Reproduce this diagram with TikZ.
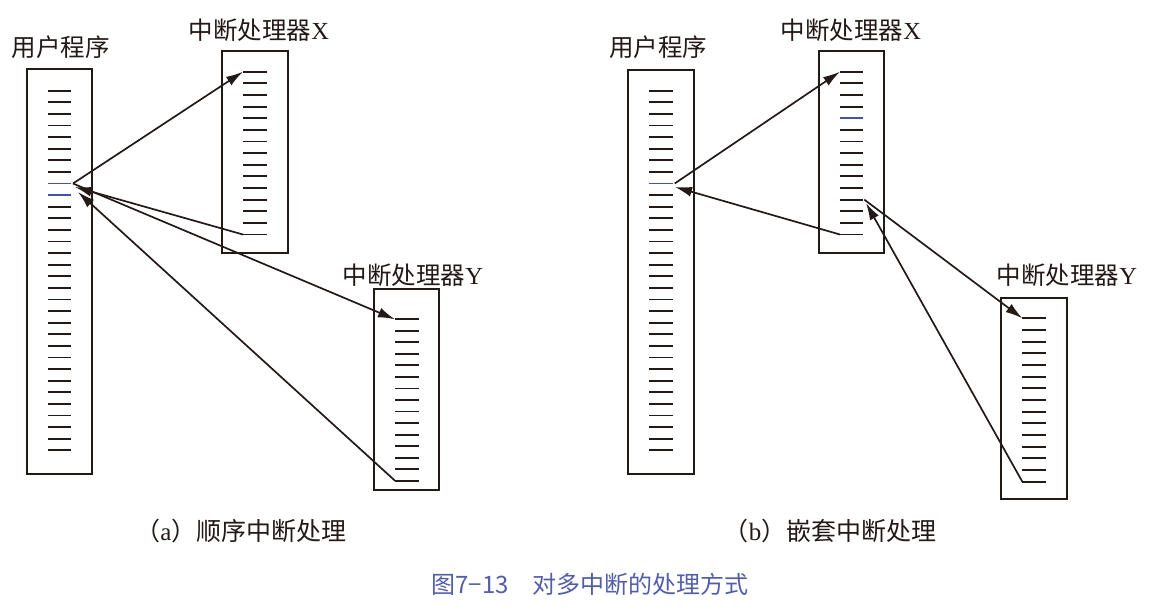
\documentclass[tikz,border=0pt]{standalone}
\usepackage{fontspec}
\setmainfont{Liberation Serif}
\newfontfamily\cjk{Noto Sans CJK SC}
\usetikzlibrary{arrows.meta,calc}
\definecolor{capblue}{RGB}{82,94,168}
\definecolor{tickblue}{RGB}{70,82,170}
\definecolor{ink}{RGB}{35,25,22}
\begin{document}
\begin{tikzpicture}[x=1pt,y=-1pt,
  prog/.style={draw=ink, line width=2pt, inner sep=0pt, anchor=north west},
  tick/.style={line width=1.9pt},
  conn/.style={draw=ink, line width=1.7pt, -{Latex[length=17pt,width=10pt]}},
  lbl/.style={inner sep=0pt, text=ink, font=\fontsize{24.5}{26}\selectfont},
  sublbl/.style={inner sep=0pt, text=ink, font=\fontsize{25}{27}\selectfont},
  figcap/.style={inner sep=0pt, font=\fontsize{24}{26}\selectfont, text=capblue}]
\useasboundingbox (0,0) rectangle (1167,613);

% ---------- panel (a) ----------
\node[prog, minimum width=65pt, minimum height=405pt] (ua) at (26,68) {};
\node[prog, minimum width=66pt, minimum height=202pt] (xa) at (221,50) {};
\node[prog, minimum width=65pt, minimum height=201pt] (ya) at (373,288) {};

\foreach \i in {1,...,32}{
  \coordinate (ua\i s) at (47.7,{90.7+11.6*(\i-1)});
  \coordinate (ua\i e) at (71,{90.7+11.6*(\i-1)});
  \def\tc{ink}\ifnum\i=9 \def\tc{tickblue}\fi\ifnum\i=10 \def\tc{tickblue}\fi
  \draw[tick,\tc] (ua\i s) -- (ua\i e);
}
\foreach \i in {1,...,15}{
  \coordinate (xa\i s) at (243,{71.7+11.63*(\i-1)});
  \coordinate (xa\i e) at (267,{71.7+11.63*(\i-1)});
  \draw[tick,ink] (xa\i s) -- (xa\i e);
  \coordinate (ya\i s) at (395,{319.3+11.53*(\i-1)});
  \coordinate (ya\i e) at (419.3,{319.3+11.53*(\i-1)});
  \draw[tick,ink] (ya\i s) -- (ya\i e);
}
\coordinate (pa) at ($(ua9e)+(2,0)$);
\coordinate (ta2) at (75,187);
\coordinate (ta4) at (78,192);
\draw[conn] (pa) -- (xa1s);
\draw[conn] (xa15s) -- (ta2);
\draw[conn] (pa) -- (ya1s);
\draw[conn] (ya15s) -- (ta4);

\node[lbl] (lua) at (61,47.5) {\cjk 用户程序};
\node[lbl] (lxa) at (259,30.5) {{\cjk 中断处理器}X};
\node[lbl] (lya) at (413,275) {{\cjk 中断处理器}Y};
\node[sublbl] (capa) at (241,531) {{\cjk （}a{\cjk ）顺序中断处理}};

% ---------- panel (b) ----------
\node[prog, minimum width=66pt, minimum height=404pt] (ub) at (627,69) {};
\node[prog, minimum width=65pt, minimum height=202pt] (xb) at (818,50) {};
\node[prog, minimum width=66pt, minimum height=201pt] (yb) at (1000,297) {};

\foreach \i in {1,...,32}{
  \coordinate (ub\i s) at (649.3,{90.7+11.6*(\i-1)});
  \coordinate (ub\i e) at (672.7,{90.7+11.6*(\i-1)});
  \def\tc{ink}\ifnum\i=9 \def\tc{tickblue}\fi
  \draw[tick,\tc] (ub\i s) -- (ub\i e);
}
\foreach \i in {1,...,15}{
  \coordinate (xb\i s) at (840,{71.7+11.63*(\i-1)});
  \coordinate (xb\i e) at (863.3,{71.7+11.63*(\i-1)});
  \def\tc{ink}\ifnum\i=5 \def\tc{tickblue}\fi
  \draw[tick,\tc] (xb\i s) -- (xb\i e);
  \coordinate (yb\i s) at (1022.3,{318.3+11.67*(\i-1)});
  \coordinate (yb\i e) at (1045.7,{318.3+11.67*(\i-1)});
  \draw[tick,ink] (yb\i s) -- (yb\i e);
}
\coordinate (pb) at ($(ub9e)+(2,0)$);
\coordinate (tb2) at (675,187);
\coordinate (qb) at ($(xb12e)+(1,0)$);
\coordinate (tb4) at (866,203);
\draw[conn] (pb) -- (xb1s);
\draw[conn] (xb15s) -- (tb2);
\draw[conn] (qb) -- (yb1s);
\draw[conn] (yb15s) -- (tb4);

\node[lbl] (lub) at (658,47.5) {\cjk 用户程序};
\node[lbl] (lxb) at (851,30.5) {{\cjk 中断处理器}X};
\node[lbl] (lyb) at (1067,275) {{\cjk 中断处理器}Y};
\node[sublbl] (capb) at (830,531) {{\cjk （}b{\cjk ）嵌套中断处理}};

% ---------- figure caption ----------
\node[figcap] (figcaption) at (590,584) {\cjk 图7−13　对多中断的处理方式};
\end{tikzpicture}
\end{document}
